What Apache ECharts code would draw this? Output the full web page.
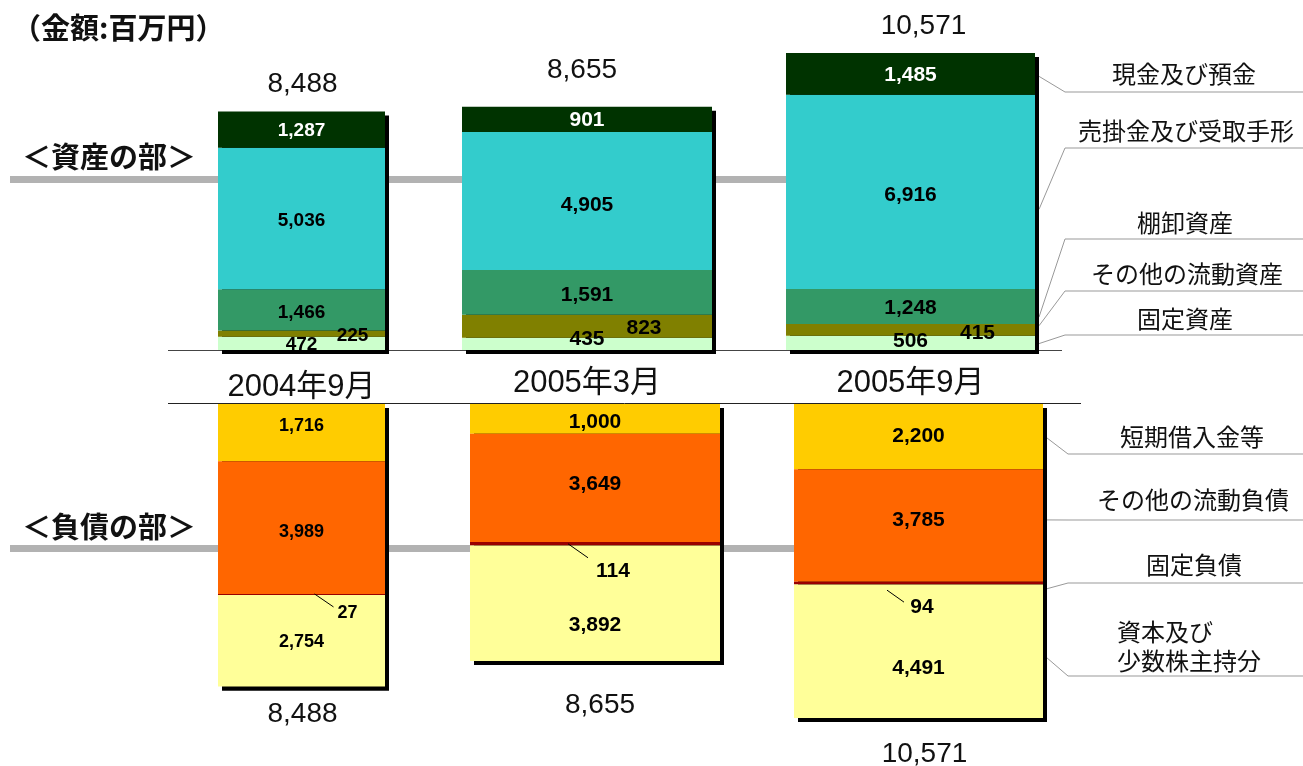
<!DOCTYPE html>
<html>
<head>
<meta charset="utf-8">
<title>貸借対照表の推移</title>
<script src="https://cdn.jsdelivr.net/npm/echarts@6.0.0/dist/echarts.min.js"></script>
<style>
html, body { margin: 0; padding: 0; background: #fff; }
#main { width: 1303px; height: 766px; }
</style>
</head>
<body>
<div id="main"></div>
<script>
// 期間
var periods = ['2004年9月', '2005年3月', '2005年9月'];

// 資産の部 (下から順に)
var fixedAssets = [472, 435, 506];
var otherCurrentAssets = [225, 823, 415];
var inventories = [1466, 1591, 1248];
var receivables = [5036, 4905, 6916];
var cashDeposits = [1287, 901, 1485];

// 負債の部 (上から順に)
var shortTermLoans = [1716, 1000, 2200];
var otherCurrentLiabilities = [3989, 3649, 3785];
var longTermLiabilities = [27, 114, 94];
var equityMinority = [2754, 3892, 4491];

// 合計
var totals = [8488, 8655, 10571];

// ---- layout ----
var Y_MAX = 11000;
var SCALE_TOP = 0.0281;
var SCALE_BOT = [0.0333, 0.0297, 0.0297];
var TOP_BASE = 350, BOT_BASE = 404, SHADOW = 4;
var colTop = [[218, 167], [462, 250], [786, 249]];
var colBot = [[218, 167], [470, 250], [794, 249]];

var NUM_FONT = '"Liberation Sans", Arial, sans-serif';
var JP_FONT = '"Noto Sans CJK JP", sans-serif';

function commas(v) {
    return String(v).replace(/\B(?=(\d{3})+(?!\d))/g, ',');
}
function fmt(p) { return commas(p.value); }

// label offsets per column (styles only)
var assets = [
    { name: '固定資産', data: fixedAssets, color: '#CCFFCC', text: '#000',
      offset: [[0, 1.5], [0, -5], [0, -2]] },
    { name: 'その他の流動資産', data: otherCurrentAssets, color: '#808000', text: '#000',
      offset: [[51, 2.5], [57, 2], [67, 3]] },
    { name: '棚卸資産', data: inventories, color: '#339966', text: '#000',
      offset: [[0, 3], [0, 2.5], [0, 1.5]] },
    { name: '売掛金及び受取手形', data: receivables, color: '#33CCCC', text: '#000',
      offset: [[0, 2.5], [0, 4], [0, 3]] },
    { name: '現金及び預金', data: cashDeposits, color: '#003300', text: '#fff',
      offset: [[0, 1.5], [0, 0.5], [0, 1]] }
];
var liabilities = [
    { name: '短期借入金等', data: shortTermLoans, color: '#FFCC00',
      offset: [[0, -6.5], [0, 3], [0, 0]] },
    { name: 'その他の流動負債', data: otherCurrentLiabilities, color: '#FF6600',
      offset: [[0, 4.5], [0, -4], [0, -5.5]] },
    { name: '固定負債', data: longTermLiabilities, color: '#990000',
      offset: [[46, 18.5], [18, 27], [3.5, 24]] },
    { name: '資本及び少数株主持分', data: equityMinority, color: '#FFFF99',
      offset: [[0, 1], [0, 22], [0, 17]] }
];

var topLabelSize = [19, 21, 21];
var botLabelSize = [18, 21, 21];
var yearMargin = [22, 18, 18];
var totalTop = { dist: [17, 27, 17], off: [[-3, 0], [-9, 0], [9, 0]] };
var totalBot = { dist: [10, 26, 18], off: [[-3, 0], [1, 0], [2, 0]] };

var grids = [], xAxes = [], yAxes = [], series = [];

function addGrid(left, width, top, height, inverse, xLabel) {
    var i = grids.length;
    grids.push({ left: left, width: width, top: top, height: height,
                 containLabel: false, outerBoundsMode: 'none' });
    xAxes.push({
        type: 'category', gridIndex: i, data: [xLabel.text],
        axisLine: { show: false }, axisTick: { show: false }, splitLine: { show: false },
        axisLabel: xLabel.show ? {
            show: true, margin: xLabel.margin, fontSize: 31, color: '#111',
            fontFamily: NUM_FONT + ', ' + JP_FONT
        } : { show: false }
    });
    yAxes.push({ type: 'value', gridIndex: i, min: 0, max: Y_MAX, inverse: inverse, show: false });
    return i;
}

function valueLabel(size, color, offset) {
    return { show: true, position: 'inside', formatter: fmt, fontWeight: 'bold',
             fontSize: size, color: color, textBorderWidth: 0,
             fontFamily: NUM_FONT, offset: offset };
}

var topMain = [], botMain = [];
for (var c = 0; c < 3; c++) {
    var hT = Y_MAX * SCALE_TOP, hB = Y_MAX * SCALE_BOT[c];
    // shadow grids (drawn behind)
    var ts = addGrid(colTop[c][0] + SHADOW, colTop[c][1], TOP_BASE - hT + SHADOW, hT, false, { text: periods[c], show: false });
    var bs = addGrid(colBot[c][0] + SHADOW, colBot[c][1], BOT_BASE + SHADOW, hB, true, { text: periods[c], show: false });
    var tm = addGrid(colTop[c][0], colTop[c][1], TOP_BASE - hT, hT, false, { text: periods[c], show: true, margin: yearMargin[c] });
    var bm = addGrid(colBot[c][0], colBot[c][1], BOT_BASE, hB, true, { text: periods[c], show: false });
    topMain.push(tm); botMain.push(bm);

    series.push({
        type: 'bar', xAxisIndex: ts, yAxisIndex: ts, data: [totals[c]], barWidth: '100%',
        itemStyle: { color: '#000' }, z: 1, silent: true,
        label: { show: true, position: 'top', distance: totalTop.dist[c], offset: totalTop.off[c],
                 formatter: fmt, fontSize: 28, color: '#111', fontFamily: NUM_FONT }
    });
    series.push({
        type: 'bar', xAxisIndex: bs, yAxisIndex: bs, data: [totals[c]], barWidth: '100%',
        itemStyle: { color: '#000' }, z: 1, silent: true,
        label: { show: true, position: 'bottom', distance: totalBot.dist[c], offset: totalBot.off[c],
                 formatter: fmt, fontSize: 28, color: '#111', fontFamily: NUM_FONT }
    });

    assets.forEach(function (s) {
        series.push({
            name: s.name, type: 'bar', stack: 'asset' + c, xAxisIndex: tm, yAxisIndex: tm,
            data: [s.data[c]], barWidth: '100%', itemStyle: { color: s.color }, z: 2,
            label: valueLabel(topLabelSize[c], s.text, s.offset[c])
        });
    });
    liabilities.forEach(function (s) {
        series.push({
            name: s.name, type: 'bar', stack: 'liab' + c, xAxisIndex: bm, yAxisIndex: bm,
            data: [s.data[c]], barWidth: '100%', itemStyle: { color: s.color }, z: 2,
            label: valueLabel(botLabelSize[c], '#000', s.offset[c])
        });
    });
}

var chart = echarts.init(document.getElementById('main'));
chart.setOption({
    animation: false,
    backgroundColor: '#fff',
    grid: grids, xAxis: xAxes, yAxis: yAxes, series: series
});

// ---- annotations ----
var g = [];
function text(t, x, y, font, align) {
    g.push({ type: 'text', z: 5, style: { text: t, x: x, y: y, font: font, fill: '#111',
             align: align || 'center', verticalAlign: 'middle' } });
}
function line(points, color, z) {
    g.push({ type: 'polyline', z: z || 0, zlevel: 0, shape: { points: points },
             style: { stroke: color, lineWidth: 1, fill: null } });
}

// gray bands and frame lines
g.push({ type: 'rect', z: 0, shape: { x: 10, y: 176, width: 776, height: 7 }, style: { fill: '#B2B2B2' } });
g.push({ type: 'rect', z: 0, shape: { x: 10, y: 545, width: 784, height: 7 }, style: { fill: '#B2B2B2' } });
line([[168, 350.5], [1062, 350.5]], '#444');
line([[168, 403.5], [1081, 403.5]], '#222');

text('（金額:百万円）', 12, 28, 'bold 29px ' + JP_FONT, 'left');
text('＜資産の部＞', 22, 157, 'bold 29px ' + JP_FONT, 'left');
text('＜負債の部＞', 22, 527, 'bold 29px ' + JP_FONT, 'left');

// small 固定負債 labels: leader lines relative to label position
var smallLead = [[[-33, -19], [-14, -6]], [[-45, -27], [-25, -13]], [[-35, -17], [-18, -5]]];
for (var k = 0; k < 3; k++) {
    var base = shortTermLoans[k] + otherCurrentLiabilities[k] + longTermLiabilities[k] / 2;
    var p = chart.convertToPixel({ gridIndex: botMain[k] }, [0, base]);
    var off = liabilities[2].offset[k];
    var lx = p[0] + off[0], ly = p[1] + off[1];
    line([[lx + smallLead[k][0][0], ly + smallLead[k][0][1]],
          [lx + smallLead[k][1][0], ly + smallLead[k][1][1]]], '#000', 100);
}

// right side callouts (last column)
var topCall = [
    { frac: 0.45, under: 335, ty: 319, tx: 1185 },
    { frac: 0.86, under: 291, ty: 274, tx: 1187 },
    { frac: 0.2, under: 239, ty: 223, tx: 1185 },
    { frac: 0.41, under: 148, ty: 131, tx: 1186 },
    { frac: 0.44, under: 92, ty: 74, tx: 1184 }
];
var cum = 0;
assets.forEach(function (s, i) {
    var v = cum + s.data[2] * topCall[i].frac;
    cum += s.data[2];
    var y = chart.convertToPixel({ gridIndex: topMain[2] }, [0, v])[1];
    var ax = colTop[2][0] + colTop[2][1] + SHADOW;
    line([[ax, y], [1065, topCall[i].under], [1303, topCall[i].under]], '#999');
    text(s.name, topCall[i].tx, topCall[i].ty, '24px ' + JP_FONT);
});

var botCall = [
    { frac: 0.52, under: 454, ty: 437, tx: 1192 },
    { frac: 0.45, under: 520, ty: 500, tx: 1193 },
    { frac: 2.5, under: 583, ty: 565, tx: 1194 },
    { frac: 0.55, under: 676 }
];
cum = 0;
liabilities.forEach(function (s, i) {
    var v = cum + s.data[2] * botCall[i].frac;
    cum += s.data[2];
    var y = chart.convertToPixel({ gridIndex: botMain[2] }, [0, v])[1];
    var ax = colBot[2][0] + colBot[2][1] + SHADOW;
    line([[ax, y], [1068, botCall[i].under], [1303, botCall[i].under]], '#999');
    if (botCall[i].ty) text(s.name, botCall[i].tx, botCall[i].ty, '24px ' + JP_FONT);
});
text('資本及び', 1117, 632, '24px ' + JP_FONT, 'left');
text('少数株主持分', 1117, 661, '24px ' + JP_FONT, 'left');

chart.setOption({ graphic: { elements: g } });
</script>
</body>
</html>
